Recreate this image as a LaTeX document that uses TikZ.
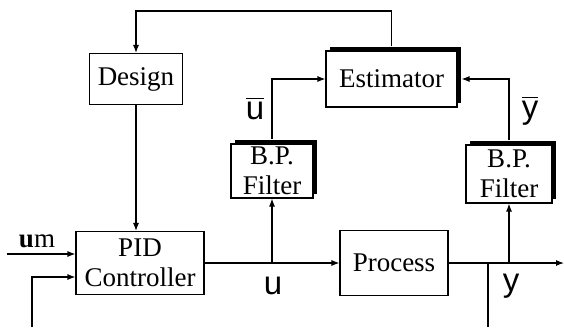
\documentclass[tikz,border=0pt]{standalone}
\usepackage{fontspec}
\setmainfont{Liberation Serif}
\setsansfont{Liberation Sans}
\usepackage{tikz}
\usetikzlibrary{positioning,arrows.meta,calc,shadows}
\newcommand{\sigbar}[1]{\vbox{\hrule height 1.6pt\kern 3pt\hbox{#1}}}

\begin{document}
\begin{tikzpicture}[
  x=1pt, y=-1pt,
  line width=1.1pt,
  >={Latex[length=8pt,width=6pt]},
  font=\fontsize{27}{30}\selectfont,
  blk/.style={draw, fill=white, align=center, inner sep=2pt},
  shblk/.style={blk, drop shadow={shadow xshift=4pt, shadow yshift=4pt, fill=black, opacity=1}},
  sig/.style={font=\fontsize{33}{34}\selectfont\sffamily, inner sep=0pt}
]
\useasboundingbox (0,0) rectangle (564,327);
\node[blk, minimum width=93pt, minimum height=51pt] (design) at (136,79) {Design};
\node[shblk, minimum width=131pt, minimum height=56pt] (est) at (391.5,79) {Estimator};
\node[shblk, minimum width=82pt, minimum height=54pt] (ubp) at (272,171) {B.P.\\Filter};
\node[shblk, minimum width=86pt, minimum height=58pt] (ybp) at (509,174) {B.P.\\Filter};
\node[blk, minimum width=128pt, minimum height=63pt] (pid) at (140,263) {PID\\Controller};
\node[blk, minimum width=108pt, minimum height=65pt] (proc) at (394,263) {Process};
\coordinate (top) at (0,11);
\coordinate (umin) at (7,254);
\coordinate (fbin) at (32,327);
\coordinate (fb) at (488,327);
\coordinate (yend) at (564,263);
% signal labels
\node (umlbl) at (37,241) {{\bfseries u}m};
\node[sig] (ulbl) at (273,286) {u};
\node[sig] (ylbl) at (511,286) {y};
\node[sig] (ubarlbl) at (255,109) {\sigbar{u}};
\node[sig] (ybarlbl) at (530,111) {\sigbar{y}};
% connectors
\draw[->] ([yshift=4pt]est.north) -- (est.north |- top) -| (design.north);
\draw[->] (design.south) -- (design.south |- pid.north);
\draw[->] (umin) -- ([yshift=9pt]pid.west);
\draw[->] (fbin) |- ([yshift=-14pt]pid.west);
\draw[->] (pid.east) -- (proc.west);
\draw[->] (ubp.south |- pid.east) -- (ubp.south);
\draw[->] ([yshift=4pt]ubp.north) |- (est.west);
\draw[->] (proc.east) -- (yend);
\draw[->] (ybp.south |- proc.east) -- (ybp.south);
\draw[->] ([yshift=4pt]ybp.north) |- ([xshift=4pt]est.east);
\draw (fb |- proc.east) -- (fb);
\end{tikzpicture}
\end{document}
